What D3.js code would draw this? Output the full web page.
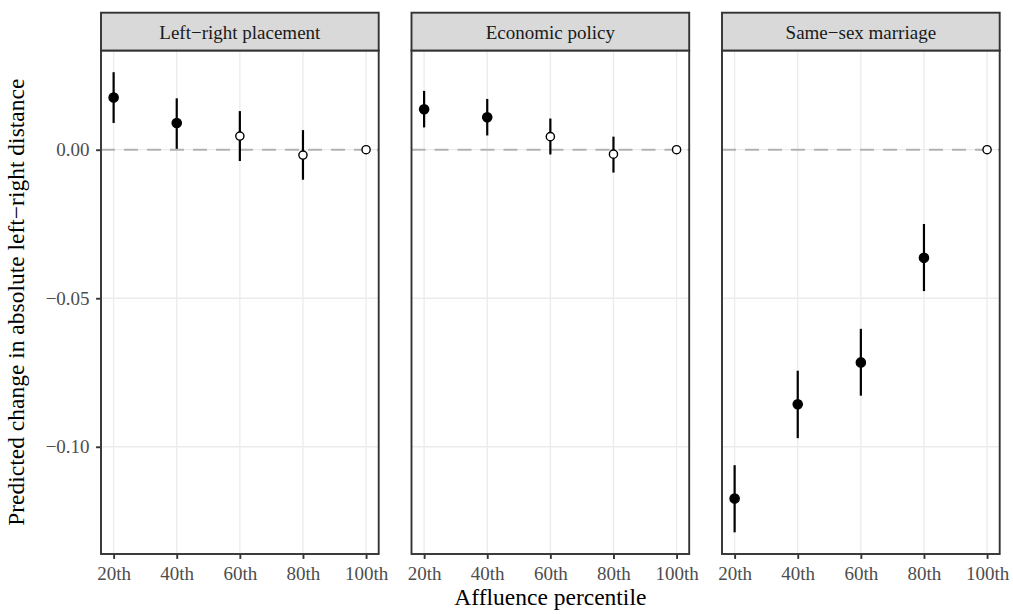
<!DOCTYPE html>
<html>
<head>
<meta charset="utf-8">
<script src="https://cdn.jsdelivr.net/npm/d3@7"></script>
<style>
  html, body { margin: 0; padding: 0; background: #ffffff; }
  svg { display: block; }
</style>
</head>
<body>
<svg id="chart" width="1013" height="614"></svg>
<script>
// ---------------- data ----------------
const percentiles = [20, 40, 60, 80, 100];
const xTickLabels = ["20th", "40th", "60th", "80th", "100th"];
const yTickValues = [0, -0.05, -0.10];
const yTickLabels = ["0.00", "\u22120.05", "\u22120.10"];
const panelTitles = ["Left\u2212right placement", "Economic policy", "Same\u2212sex marriage"];

// Left-right placement
const lrEst = [0.0176, 0.0090, 0.0046, -0.0018, 0];
const lrLo  = [0.0090, 0.0003, -0.0038, -0.0101, null];
const lrHi  = [0.0261, 0.0173, 0.0130, 0.0066, null];
// Economic policy
const ecEst = [0.0136, 0.0109, 0.0044, -0.0015, 0];
const ecLo  = [0.0075, 0.0048, -0.0016, -0.0077, null];
const ecHi  = [0.0198, 0.0171, 0.0105, 0.0044, null];
// Same-sex marriage
const ssEst = [-0.1174, -0.0857, -0.0716, -0.0364, 0];
const ssLo  = [-0.1288, -0.0971, -0.0828, -0.0476, null];
const ssHi  = [-0.1062, -0.0744, -0.0603, -0.0250, null];

const xTitle = "Affluence percentile";
const yTitle = "Predicted change in absolute left\u2212right distance";

// -------------- layout ----------------
const FONT = "'Liberation Serif', 'Times New Roman', Times, serif";
const panelLefts = [101, 411.5, 722];
const panelW = 277.7;
const stripTop = 12.7, panelTop = 50.5, panelBottom = 554;

const series = [
  { title: panelTitles[0], est: lrEst, lo: lrLo, hi: lrHi },
  { title: panelTitles[1], est: ecEst, lo: ecLo, hi: ecHi },
  { title: panelTitles[2], est: ssEst, lo: ssLo, hi: ssHi }
];

const svg = d3.select("#chart");
const y = d3.scaleLinear().domain([-0.1361, 0.0334]).range([panelBottom, panelTop]);

series.forEach((s, i) => {
  const x0 = panelLefts[i];
  const x = d3.scaleLinear().domain([16, 104]).range([x0, x0 + panelW]);
  const g = svg.append("g");

  // panel background
  g.append("rect").attr("x", x0).attr("y", panelTop).attr("width", panelW)
    .attr("height", panelBottom - panelTop).attr("fill", "#ffffff");

  // grid lines
  g.selectAll(".vg").data(percentiles).enter().append("line")
    .attr("x1", d => x(d)).attr("x2", d => x(d))
    .attr("y1", panelTop).attr("y2", panelBottom)
    .attr("stroke", "#ebebeb").attr("stroke-width", 1.3);
  g.selectAll(".hg").data(yTickValues).enter().append("line")
    .attr("x1", x0).attr("x2", x0 + panelW)
    .attr("y1", d => y(d)).attr("y2", d => y(d))
    .attr("stroke", "#ebebeb").attr("stroke-width", 1.3);

  // reference dashed line at zero
  g.append("line").attr("x1", x0).attr("x2", x0 + panelW)
    .attr("y1", y(0)).attr("y2", y(0))
    .attr("stroke", "#b3b3b3").attr("stroke-width", 2)
    .attr("stroke-dasharray", "14,9");

  const pts = percentiles.map((p, k) => ({ p, est: s.est[k], lo: s.lo[k], hi: s.hi[k] }));

  // error bars
  g.selectAll(".eb").data(pts.filter(d => d.lo !== null)).enter().append("line")
    .attr("x1", d => x(d.p)).attr("x2", d => x(d.p))
    .attr("y1", d => y(d.lo)).attr("y2", d => y(d.hi))
    .attr("stroke", "#000").attr("stroke-width", 2.2);

  // points: filled when the interval excludes zero
  g.selectAll(".pt").data(pts).enter().append("circle")
    .attr("cx", d => x(d.p)).attr("cy", d => y(d.est))
    .attr("r", d => (d.lo !== null && (d.lo > 0 || d.hi < 0)) ? 4.6 : 4.1)
    .attr("fill", d => (d.lo !== null && (d.lo > 0 || d.hi < 0)) ? "#000" : "#fff")
    .attr("stroke", "#000").attr("stroke-width", 1.4);

  // panel border
  g.append("rect").attr("x", x0).attr("y", panelTop).attr("width", panelW)
    .attr("height", panelBottom - panelTop).attr("fill", "none")
    .attr("stroke", "#333333").attr("stroke-width", 1.9);

  // strip
  g.append("rect").attr("x", x0).attr("y", stripTop).attr("width", panelW)
    .attr("height", panelTop - stripTop).attr("fill", "#d9d9d9")
    .attr("stroke", "#333333").attr("stroke-width", 1.9);
  g.append("text").attr("x", x0 + panelW / 2).attr("y", 38.5)
    .attr("text-anchor", "middle").attr("font-family", FONT)
    .attr("font-size", 19).attr("fill", "#1a1a1a").text(s.title);

  // x axis
  const xa = svg.append("g").attr("transform", `translate(0,${panelBottom + 0.9})`)
    .call(d3.axisBottom(x).tickValues(percentiles)
      .tickFormat((d, k) => xTickLabels[k]).tickSize(4).tickSizeOuter(0).tickPadding(7.5));
  xa.select(".domain").remove();
  xa.selectAll("line").attr("stroke", "#333333").attr("stroke-width", 1.9);
  xa.selectAll("text").attr("font-family", FONT).attr("font-size", 19).attr("fill", "#4d4d4d");
});

// y axis (left panel only)
const ya = svg.append("g").attr("transform", `translate(${panelLefts[0] - 0.9},0)`)
  .call(d3.axisLeft(y).tickValues(yTickValues)
    .tickFormat((d, k) => yTickLabels[k]).tickSize(4).tickSizeOuter(0).tickPadding(6.5));
ya.select(".domain").remove();
ya.selectAll("line").attr("stroke", "#333333").attr("stroke-width", 1.9);
ya.selectAll("text").attr("font-family", FONT).attr("font-size", 19).attr("fill", "#4d4d4d");

// axis titles
svg.append("text").attr("x", (panelLefts[0] + panelLefts[2] + panelW) / 2).attr("y", 605)
  .attr("text-anchor", "middle").attr("font-family", FONT).attr("font-size", 23.5)
  .attr("fill", "#000").text(xTitle);
svg.append("text")
  .attr("transform", `translate(24,${(panelTop + panelBottom) / 2}) rotate(-90)`)
  .attr("text-anchor", "middle").attr("font-family", FONT).attr("font-size", 23.5)
  .attr("fill", "#000").text(yTitle);
</script>
</body>
</html>
